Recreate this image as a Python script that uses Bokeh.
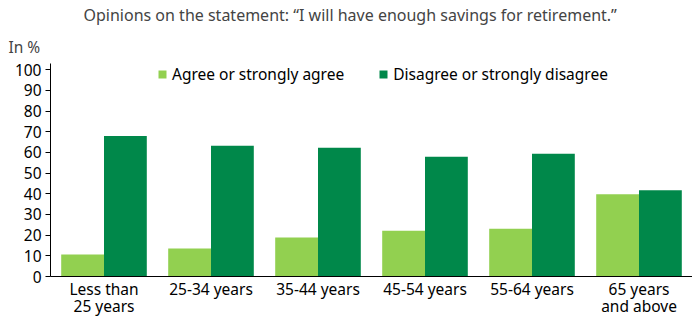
from bokeh.plotting import figure
from bokeh.models import ColumnDataSource, FactorRange, Legend, LegendItem, Title, FixedTicker
from bokeh.transform import dodge
from bokeh.embed import file_html
from bokeh.resources import INLINE

categories = ["Less than\n25 years", "25-34 years", "35-44 years", "45-54 years", "55-64 years", "65 years\nand above"]
agree = [10.6, 13.5, 18.8, 22.1, 23.1, 39.8]
disagree = [68.0, 63.2, 62.2, 57.9, 59.4, 41.7]
series_names = ["Agree or strongly agree", "Disagree or strongly disagree"]
y_ticks = [0, 10, 20, 30, 40, 50, 60, 70, 80, 90, 100]

FONT = "Noto Sans"
LIGHT = "#92D050"
DARK = "#00884A"

src = ColumnDataSource(dict(cat=categories, agree=agree, disagree=disagree))

p = figure(width=692, height=320, x_range=FactorRange(*categories), y_range=(0, 103),
           output_backend="svg", toolbar_location=None,
           min_border_left=50, min_border_right=0, min_border_bottom=30, min_border_top=62)
p.outline_line_color = None
p.xgrid.grid_line_color = None
p.ygrid.grid_line_color = None
p.background_fill_color = None
p.border_fill_color = None

r1 = p.vbar(x=dodge("cat", -0.2, range=p.x_range), top="agree", width=0.4, source=src,
            fill_color=LIGHT, line_color=None)
r2 = p.vbar(x=dodge("cat", 0.2, range=p.x_range), top="disagree", width=0.4, source=src,
            fill_color=DARK, line_color=None)

p.yaxis.ticker = FixedTicker(ticks=y_ticks)
p.yaxis.minor_tick_line_color = None
p.yaxis.major_tick_in = 0
p.yaxis.major_tick_out = 5
p.yaxis.axis_line_color = "black"
p.yaxis.major_tick_line_color = "black"
p.yaxis.major_label_text_font = FONT
p.yaxis.major_label_text_font_size = "15.5px"
p.yaxis.major_label_text_color = "black"
p.yaxis.major_label_standoff = 4

p.xaxis.major_tick_line_color = None
p.xaxis.minor_tick_line_color = None
p.xaxis.major_tick_in = 0
p.xaxis.major_tick_out = 0
p.xaxis.minor_tick_in = 0
p.xaxis.minor_tick_out = 0
p.xaxis.axis_line_color = "black"
p.xaxis.major_label_text_font = FONT
p.xaxis.major_label_text_font_size = "15.5px"
p.xaxis.major_label_text_color = "black"
p.xaxis.major_label_text_line_height = 0.8
p.xaxis.major_label_standoff = 1

legend = Legend(items=[LegendItem(label=series_names[0], renderers=[r1]),
                       LegendItem(label=series_names[1], renderers=[r2])],
                orientation="horizontal", location=(107, 190),
                border_line_color=None, background_fill_color=None, background_fill_alpha=0,
                label_text_font=FONT, label_text_font_size="15.5px", label_text_color="black",
                glyph_width=10, glyph_height=10, label_standoff=5, spacing=34,
                padding=0, margin=0, label_height=24)
p.add_layout(legend, "center")

p.add_layout(Title(text="In %", align="left", offset=-42, text_font=FONT, text_font_size="15.5px",
                   text_font_style="normal", standoff=12), "above")
p.add_layout(Title(text="Opinions on the statement: \u201cI will have enough savings for retirement.\u201d",
                   align="left", offset=33, text_font=FONT, text_font_size="16px",
                   text_font_style="normal", standoff=3), "above")

open("out.html", "w").write(file_html(p, INLINE))
